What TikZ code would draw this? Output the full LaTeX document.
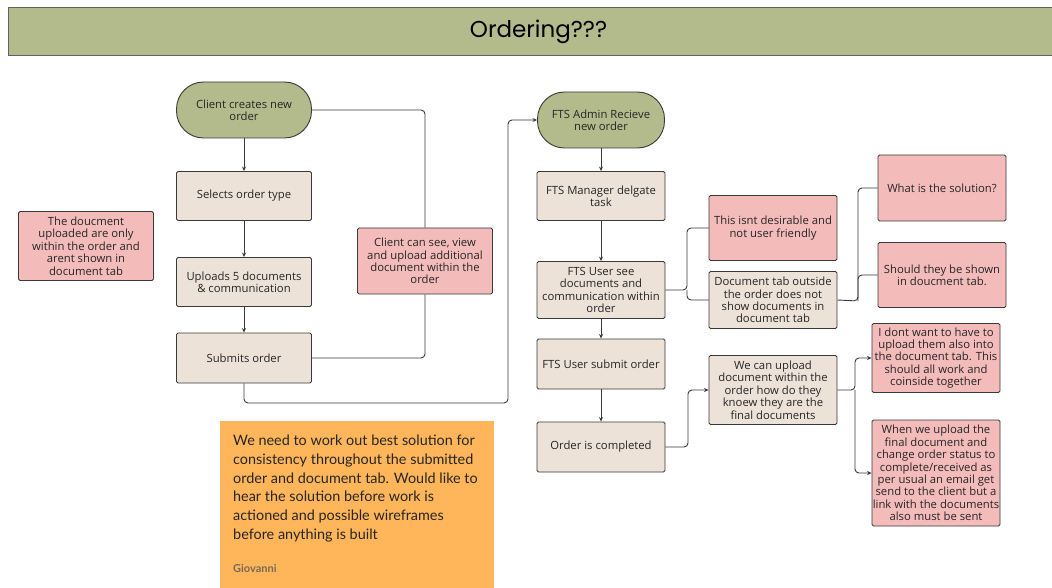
\documentclass[tikz,border=0pt]{standalone}
\usepackage{fontspec}
\setmainfont{Open Sans}
\newfontfamily\titlefont{Poppins}
\newfontfamily\notefont{Lato}
\usetikzlibrary{arrows.meta}
\definecolor{olive}{HTML}{B3BA8C}
\definecolor{beige}{HTML}{ECE2D8}
\definecolor{pinkbox}{HTML}{F4BBBB}
\definecolor{orangenote}{HTML}{FFB55A}
\definecolor{edge}{HTML}{3A3A3A}
\definecolor{signgray}{HTML}{7A6A55}
\begin{document}
\begin{tikzpicture}[x=1pt,y=-1pt,
  box/.style={rectangle, draw=edge, line width=0.9pt, rounded corners=1.5pt,
    minimum width=128pt, minimum height=49pt, align=center,
    inner sep=0.5pt, font=\fontsize{11.3}{12.4}\selectfont, text=black!85},
  proc/.style={box, fill=beige},
  note/.style={box, fill=pinkbox},
  term/.style={box, fill=olive, rounded corners=27pt, minimum height=56pt},
  line/.style={draw=edge, line width=0.9pt, rounded corners=4pt},
  arr/.style={line, -{Stealth[length=4.5pt,width=4pt]}}]
\useasboundingbox (0,0) rectangle (1052,588);
\fill[white] (0,0) rectangle (1052,588);
% title
\node[draw=edge!80, line width=1pt, fill=olive, minimum width=1060pt, minimum height=48pt,
  anchor=north west, inner sep=0pt, font=\titlefont\fontsize{23}{26}\selectfont] (title) at (8,7) {Ordering???};
% left column
\node[term, minimum width=135pt] (c1) at (244,110) {Client creates new\\order};
\node[proc, minimum width=135pt] (c2) at (244,196) {Selects order type};
\node[proc, minimum width=135pt] (c3) at (244,282) {Uploads 5 documents\\\& communication};
\node[proc, minimum width=135pt, minimum height=50pt] (c4) at (244,358) {Submits order};
\node[note, minimum width=135pt, minimum height=69pt] (n1) at (86,246) {The doucment\\uploaded are only\\within the order and\\arent shown in\\document tab};
\node[note, minimum width=135pt, minimum height=66pt] (n2) at (425,261) {Client can see, view\\and upload additional\\document within the\\order};
% middle column
\node[term, minimum width=127pt] (a1) at (601,120) {FTS Admin Recieve\\new order};
\node[proc] (a2) at (601,196) {FTS Manager delgate\\task};
\node[proc, minimum height=57pt] (a3) at (601,290) {FTS User see\\documents and\\communication within\\order};
\node[proc, minimum height=50pt] (a4) at (601,364) {FTS User submit order};
\node[proc, minimum height=50pt] (a5) at (601,447) {Order is completed};
% second column
\node[note, minimum height=65pt] (d1) at (773,228) {This isnt desirable and\\not user friendly};
\node[proc, minimum height=57pt] (d2) at (773,300) {Document tab outside\\the order does not\\show documents in\\document tab};
\node[proc, minimum height=69pt] (d3) at (773,390) {We can upload\\document within the\\order how do they\\knoew they are the\\final documents};
% right column
\node[note, minimum height=66pt] (q1) at (942,188) {What is the solution?};
\node[note, minimum height=65pt] (q2) at (942,275) {Should they be shown\\in doucment tab.};
\node[note, minimum height=69pt] (q3) at (936,358) {I dont want to have to\\upload them also into\\the document tab. This\\should all work and\\coinside together};
\node[note, minimum height=106pt] (q4) at (936,473) {When we upload the\\final document and\\change order status to\\complete/received as\\per usual an email get\\send to the client but a\\link with the documents\\also must be sent};
% orange sticky note
\node[fill=orangenote, minimum width=274pt, minimum height=170pt, anchor=north west, inner sep=0pt] (sticky) at (220,421) {};
\node[anchor=north west, align=left, inner sep=0pt,
  font=\notefont\fontsize{14.4}{18.7}\selectfont, text=black!85] (stickytext) at (233,435)
  {We need to work out best solution for\\consistency throughout the submitted\\order and document tab. Would like to\\hear the solution before work is\\actioned and possible wireframes\\before anything is built};
\node[anchor=west, inner sep=0pt, font=\notefont\bfseries\fontsize{11}{13}\selectfont, text=signgray] (sign) at (233,568) {Giovanni};
% coordinates
\coordinate (j1) at (508,403);
\coordinate (b1) at (687,290);
\coordinate (b2) at (858,301);
\coordinate (b3) at (688,447);
\coordinate (b4) at (855,390);
% connectors
\draw[arr] (c1.south) -- (c2.north);
\draw[arr] (c2.south) -- (c3.north);
\draw[arr] (c3.south) -- (c4.north);
\draw[line] (c1.east) -| (n2.north);
\draw[line] (n2.south) |- (c4.east);
\draw[arr] (c4.south) |- (j1) |- (a1.west);
\draw[arr] (a1.south) -- (a2.north);
\draw[arr] (a2.south) -- (a3.north);
\draw[arr] (a3.south) -- (a4.north);
\draw[arr] (a4.south) -- (a5.north);
\draw[line] (a3.east) -- (b1) |- (d1.west);
\draw[line] (b1) |- (d2.west);
\draw[line] (d2.east) -- (b2) |- (q1.west);
\draw[line] (b2) |- (q2.west);
\draw[arr] (a5.east) -- (b3) |- (d3.west);
\draw[arr] (d3.east) -- (b4) |- (q3.west);
\draw[arr] (b4) |- (q4.west);
\end{tikzpicture}
\end{document}
